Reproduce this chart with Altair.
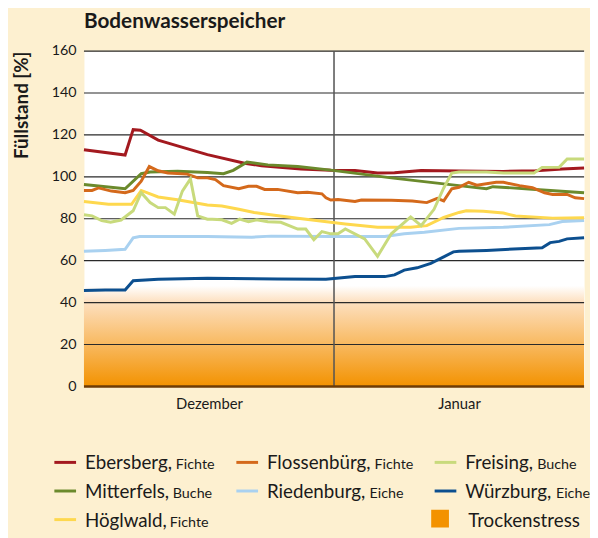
import altair as alt
import pandas as pd

FONT = "Lato"
TXT = "#1a1a1a"

# x = days since 1 December (0 = 1 Dec, 31 = 1 Jan, 62 = 1 Feb)
month_labels = ["Dezember", "Januar"]
month_label_pos = [15.5, 46.5]
jan_start = [31]
y_ticks = [0, 20, 40, 60, 80, 100, 120, 140, 160]

eb_tag = [0, 5.1, 6.1, 7.0, 9.2, 11.6, 15.3, 19.9, 22.0, 26.9, 30.6, 33.6, 36.4, 38.5, 41.8, 46.5, 52.0, 56.0, 59.3, 62]
eb_val = [112.9, 110.4, 122.5, 122.2, 117.5, 114.8, 110.6, 106.5, 105.3, 103.7, 103.1, 103.0, 101.8, 101.9, 103.0, 102.8, 102.6, 102.9, 103.7, 104.2]

mi_tag = [0, 5.1, 7.1, 8.2, 11.6, 15.3, 17.3, 18.5, 20.2, 22.8, 26.5, 30.6, 38.1, 46.5, 49.9, 50.7, 56.0, 62]
mi_val = [96.3, 94.3, 101.5, 102.3, 102.7, 102.1, 101.5, 103.1, 107.0, 105.7, 104.9, 103.2, 99.5, 95.8, 94.3, 95.3, 94.0, 92.4]

fl_tag = [0, 1, 1.8, 3.4, 5.1, 6.1, 7.1, 8.1, 9.2, 10.4, 12.8, 14.1, 15.3, 16.3, 17.3, 19.2, 20.4, 21.4, 22.4,
          24.0, 26.5, 27.7, 29.5, 30.0, 30.6, 31.5, 33.6, 34.4, 38.1, 40.7, 42.5, 43.8, 44.6, 45.6, 46.5, 47.7,
          48.7, 51.1, 52.0, 54.0, 55.6, 57.1, 58.1, 59.9, 60.9, 62]
fl_val = [93.5, 93.5, 94.7, 93.2, 92.4, 93.5, 97.9, 104.9, 102.9, 101.8, 101.3, 99.5, 99.5, 98.7, 95.8, 94.3, 95.5, 95.5, 94.0,
          94.0, 92.4, 92.6, 91.9, 90.0, 88.9, 89.2, 88.2, 88.9, 88.8, 88.5, 87.7, 89.7, 88.5, 94.3, 95.0, 97.4,
          96.0, 97.4, 97.4, 95.8, 94.8, 92.4, 91.6, 91.6, 90.0, 89.6]

ri_tag = [0, 2.65, 5.1, 6.1, 6.9, 15.3, 20.8, 23.2, 30.6, 37.3, 39.7, 42.2, 46.5, 52.0, 57.7, 59.3, 62]
ri_val = [64.5, 64.9, 65.4, 70.9, 71.5, 71.5, 71.2, 71.7, 71.5, 71.5, 72.8, 73.6, 75.4, 75.9, 77.2, 78.7, 79.1]

ho_tag = [0, 3.05, 5.9, 7.1, 9.2, 11.6, 15.3, 17.1, 19.2, 21.1, 23.6, 26.5, 30.6, 32.4, 36.4, 40.5, 42.5, 44.6,
          46.5, 47.4, 49.5, 52.0, 53.5, 58.1, 62]
ho_val = [88.2, 86.9, 86.9, 93.5, 90.4, 89.1, 86.6, 86.1, 84.5, 83.0, 81.7, 80.2, 78.3, 77.5, 75.9, 75.9, 76.7, 80.6,
          83.0, 83.8, 83.6, 82.7, 81.3, 80.3, 80.5]

fr_tag = [0, 1, 2.2, 3.3, 4.6, 6.1, 7.1, 8.2, 9.2, 10.1, 11.2, 12.2, 13.2, 14.1, 15.3, 15.9, 17.1, 18.3, 19.3,
          20.4, 21.4, 22.8, 24.4, 26.5, 27.5, 28.5, 29.5, 30.6, 31.5, 32.4, 34.8, 36.4, 38.1, 40.5, 41.8, 43.4,
          44.6, 45.6, 46.5, 49.9, 52.0, 55.8, 56.8, 58.9, 59.9, 62]
fr_val = [81.9, 81.4, 79.1, 78.3, 79.4, 83.8, 92.4, 87.7, 85.3, 85.3, 82.2, 93.2, 99.0, 81.4, 79.8, 79.8, 79.5, 77.8, 79.8,
          78.6, 79.5, 78.6, 78.3, 75.1, 75.1, 70.0, 73.9, 72.8, 72.8, 75.1, 70.4, 62.1, 72.8, 80.9, 76.7, 84.5,
          94.7, 101.8, 102.3, 102.3, 101.8, 101.8, 104.5, 104.5, 108.5, 108.5]

wu_tag = [0, 2.65, 5.1, 6.1, 9.2, 15.3, 24.0, 30.0, 33.6, 37.3, 38.5, 39.7, 41.3, 43.0, 44.6, 45.8, 46.5, 49.9,
          56.8, 57.8, 58.9, 59.9, 62]
wu_val = [45.8, 46.0, 46.0, 50.4, 51.1, 51.6, 51.3, 51.1, 52.4, 52.4, 53.2, 55.5, 56.6, 58.7, 61.8, 64.2, 64.5, 64.9,
          66.2, 68.6, 69.2, 70.4, 70.9]

series_names = ["Ebersberg", "Flossenbürg", "Freising", "Mitterfels", "Riedenburg", "Würzburg", "Höglwald"]
series_species = ["Fichte", "Fichte", "Buche", "Buche", "Eiche", "Eiche", "Fichte"]
series_colors = ["#a3191f", "#d4691b", "#c8da7c", "#6b8a2c", "#a9d1f0", "#0c4f8f", "#fed84e"]

series_data = {
    "Ebersberg": (eb_tag, eb_val),
    "Mitterfels": (mi_tag, mi_val),
    "Flossenbürg": (fl_tag, fl_val),
    "Riedenburg": (ri_tag, ri_val),
    "Höglwald": (ho_tag, ho_val),
    "Freising": (fr_tag, fr_val),
    "Würzburg": (wu_tag, wu_val),
}
draw_order = ["Ebersberg", "Mitterfels", "Flossenbürg", "Riedenburg", "Höglwald", "Freising", "Würzburg"]

rows = []
for name in draw_order:
    t, v = series_data[name]
    for ti, vi in zip(t, v):
        rows.append({"serie": name, "tag": ti, "wert": vi})
df = pd.DataFrame(rows)

stress_df = pd.DataFrame({"tag": [0], "tag2": [62], "wert": [0], "wert2": [48]})
grid_df = pd.DataFrame({"wert": y_ticks[1:]})
zero_df = pd.DataFrame({"wert": [0]})
jan_df = pd.DataFrame({"tag": jan_start, "wert": [0], "wert2": [160]})

xs = alt.Scale(domain=[0, 62], nice=False, zero=False)
ys = alt.Scale(domain=[0, 160], nice=False)
cs = alt.Scale(domain=series_names, range=series_colors)

label_expr = "datum.value < 31 ? '%s' : '%s'" % (month_labels[0], month_labels[1])
x_axis = alt.Axis(values=month_label_pos, labelExpr=label_expr, title=None, ticks=False, domain=False,
                  grid=False, labelFontSize=15, labelPadding=10)
y_axis = alt.Axis(values=y_ticks, title="Füllstand [%]", titleFontSize=19, titleFontWeight="bold",
                  titleAnchor="end", titlePadding=20, labelFontSize=14.5, labelPadding=8, ticks=False,
                  domain=False, grid=False)


def X(field):
    return alt.X(field, scale=xs, axis=x_axis)


def Y(field):
    return alt.Y(field, scale=ys, axis=y_axis)


stress = alt.Chart(stress_df).mark_rect(
    fill=alt.Gradient(
        gradient="linear", x1=0, x2=0, y1=0, y2=1,
        stops=[alt.GradientStop(color="#ffffff", offset=0),
               alt.GradientStop(color="#fde0c0", offset=0.16),
               alt.GradientStop(color="#f39200", offset=1)],
    )
).encode(x=X("tag:Q"), x2="tag2:Q", y=Y("wert:Q"), y2="wert2:Q")

grid = alt.Chart(grid_df).mark_rule(color="#2a2a2a", strokeWidth=1.2).encode(y=Y("wert:Q"))
zero = alt.Chart(zero_df).mark_rule(color="#6e3c06", strokeWidth=2.5).encode(y=Y("wert:Q"))
jan = alt.Chart(jan_df).mark_rule(color="#555555", strokeWidth=1.8, opacity=0.85).encode(
    x=X("tag:Q"), y=Y("wert:Q"), y2="wert2:Q"
)

line_layers = []
for name in draw_order:
    line_layers.append(
        alt.Chart(df).transform_filter(alt.datum.serie == name).mark_line(strokeWidth=3).encode(
            x=X("tag:Q"),
            y=Y("wert:Q"),
            color=alt.Color("serie:N", scale=cs, legend=None),
        )
    )

main = alt.layer(stress, grid, jan, *line_layers, zero)

# ---- legend ----
legend_col = [0, 1, 2, 0, 1, 2, 0]
legend_row = [0, 0, 0, 1, 1, 1, 2]
legend_species_dx = [112, 129, 93, 109, 124, 112, 106]
leg_df = pd.DataFrame({
    "serie": series_names,
    "label": [n + "," for n in series_names],
    "species": series_species,
    "col": legend_col,
    "row": legend_row,
})
lx = alt.Scale(domain=[0, 1, 2], range=[-19, 165.5, 366.5])
ly = alt.Scale(domain=[0, 1, 2], range=[417, 446, 475])

leg_base = alt.Chart(leg_df).encode(
    x=alt.X("col:Q", scale=lx, axis=None),
    y=alt.Y("row:Q", scale=ly, axis=None),
)
leg_rule = leg_base.mark_rule(strokeWidth=3, xOffset=-11, x2Offset=11).encode(
    x2="col:Q", color=alt.Color("serie:N", scale=cs, legend=None)
)
leg_name = leg_base.mark_text(align="left", baseline="alphabetic", dx=20, dy=7, fontSize=19,
                              font=FONT, color=TXT).encode(text="label:N")
leg_layers = [leg_rule, leg_name]
for name, dxv in zip(series_names, legend_species_dx):
    leg_layers.append(
        leg_base.transform_filter(alt.datum.serie == name).mark_text(
            align="left", baseline="alphabetic", dx=dxv, dy=7, fontSize=14.5, font=FONT, color=TXT
        ).encode(text="species:N")
    )

stress_leg_df = pd.DataFrame({"label": ["Trockenstress"], "col": [2], "row": [2]})
st_base = alt.Chart(stress_leg_df).encode(
    x=alt.X("col:Q", scale=lx, axis=None),
    y=alt.Y("row:Q", scale=ly, axis=None),
)
st_sq = st_base.mark_square(size=324, color="#f39200", opacity=1, xOffset=-5.5, yOffset=-1)
st_txt = st_base.mark_text(align="left", baseline="alphabetic", dx=23, dy=7, fontSize=19,
                           font=FONT, color=TXT).encode(text="label:N")
leg_layers += [st_sq, st_txt]

legend = alt.layer(*leg_layers)

chart = alt.layer(main, legend).resolve_scale(x="independent", y="independent").properties(
    width=507,
    height=340,
    autosize=alt.AutoSizeParams(type="none"),
    padding={"left": 77, "top": 40, "right": 6, "bottom": 150},
    title=alt.TitleParams("Bodenwasserspeicher", anchor="start", frame="group", font=FONT,
                          fontSize=21, fontWeight="bold", color=TXT, baseline="alphabetic", offset=0, dy=6),
).configure(background="#fdf0d0").configure_view(fill="white", stroke="transparent").configure_axis(
    labelFont=FONT, titleFont=FONT, labelColor=TXT, titleColor=TXT
)

chart.save("out.html", embed_options={"renderer": "svg", "actions": False})
